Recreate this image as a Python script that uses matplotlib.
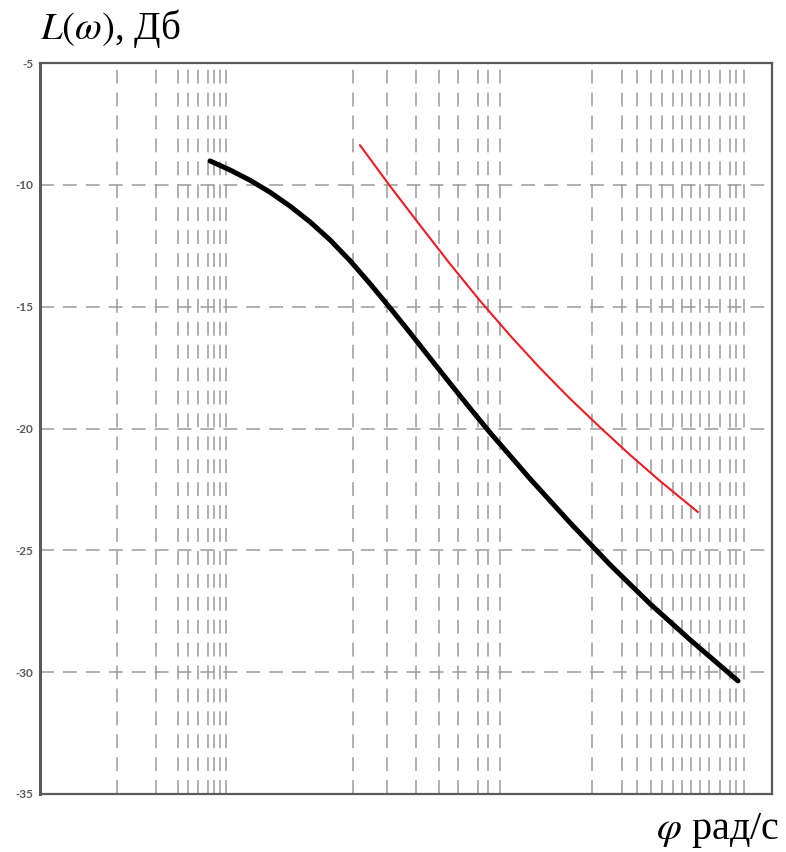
import matplotlib
matplotlib.use("Agg")
import matplotlib.pyplot as plt

# x values are lg(omega) (decades), y values in dB
black_x = [0.392, 0.476, 0.560, 0.644, 0.728, 0.813, 0.897, 0.981, 1.065, 1.149, 1.234,
           1.318, 1.402, 1.486, 1.571, 1.739, 1.907, 2.076, 2.244, 2.413, 2.615]
black_y = [-9.02, -9.39, -9.81, -10.30, -10.87, -11.52, -12.26, -13.11, -14.05, -15.04, -16.07,
           -17.11, -18.14, -19.16, -20.17, -22.06, -23.86, -25.59, -27.19, -28.67, -30.36]

red_x = [1.023, 1.149, 1.276, 1.402, 1.528, 1.655, 1.781, 1.907, 2.034, 2.160, 2.286, 2.446]
red_y = [-8.37, -10.04, -11.66, -13.24, -14.75, -16.18, -17.52, -18.77, -19.95, -21.08, -22.15, -23.43]

y_ticks = [-35, -30, -25, -20, -15, -10, -5]
y_tick_labels = ["-35", "-30", "-25", "-20", "-15", "-10", "-5"]
x_grid = [0.0, 0.164, 0.257, 0.299, 0.341, 0.383, 0.408, 0.434, 0.459,
          0.994, 1.137, 1.259, 1.356, 1.436, 1.520, 1.562, 1.613,
          2.0, 2.125, 2.191, 2.247, 2.296, 2.340, 2.378, 2.417, 2.455, 2.494, 2.539, 2.581, 2.606, 2.640]
y_grid = [-30, -25, -20, -15, -10]

plt.rcParams['lines.scale_dashes'] = False
plt.rcParams['mathtext.fontset'] = 'stix'

fig = plt.figure(figsize=(7.86, 8.52), dpi=100)
ax = fig.add_axes([40/786, 1-794/852, 732/786, 731/852])
ax.set_xlim(-0.324, 2.758)
ax.set_ylim(-35, -5)

grid_kw = dict(color='#9a9a9a', lw=1.1, dashes=(10, 6.5), zorder=1)
for gx in x_grid:
    ax.axvline(gx, **grid_kw)
for gy in y_grid:
    ax.axhline(gy, **grid_kw)

ax.plot(black_x, black_y, color='black', lw=3.6, solid_capstyle='round',
        solid_joinstyle='round', zorder=3)
ax.plot(red_x, red_y, color='#ee1c24', lw=1.5, solid_capstyle='round',
        solid_joinstyle='round', zorder=3)

ax.set_xticks([])
ax.set_yticks(y_ticks)
ax.set_yticklabels(y_tick_labels, fontfamily='Lato', fontweight='bold', fontsize=8.5, color='#5a5a5a')
ax.tick_params(axis='y', length=0, pad=5)
for s in ax.spines.values():
    s.set_color('#5a5a5a')
    s.set_linewidth(1.6)
ax.spines['left'].set_linewidth(2.2)

fig.text(40/786, 1-28/852, r"$L(\omega)$, Дб", fontsize=28, family='Liberation Serif',
         ha='left', va='center')
fig.text(779/786, 1-830/852, r"$\varphi$ рад/с", fontsize=29, family='Liberation Serif',
         ha='right', va='center')

fig.savefig("out.png", dpi=100)
